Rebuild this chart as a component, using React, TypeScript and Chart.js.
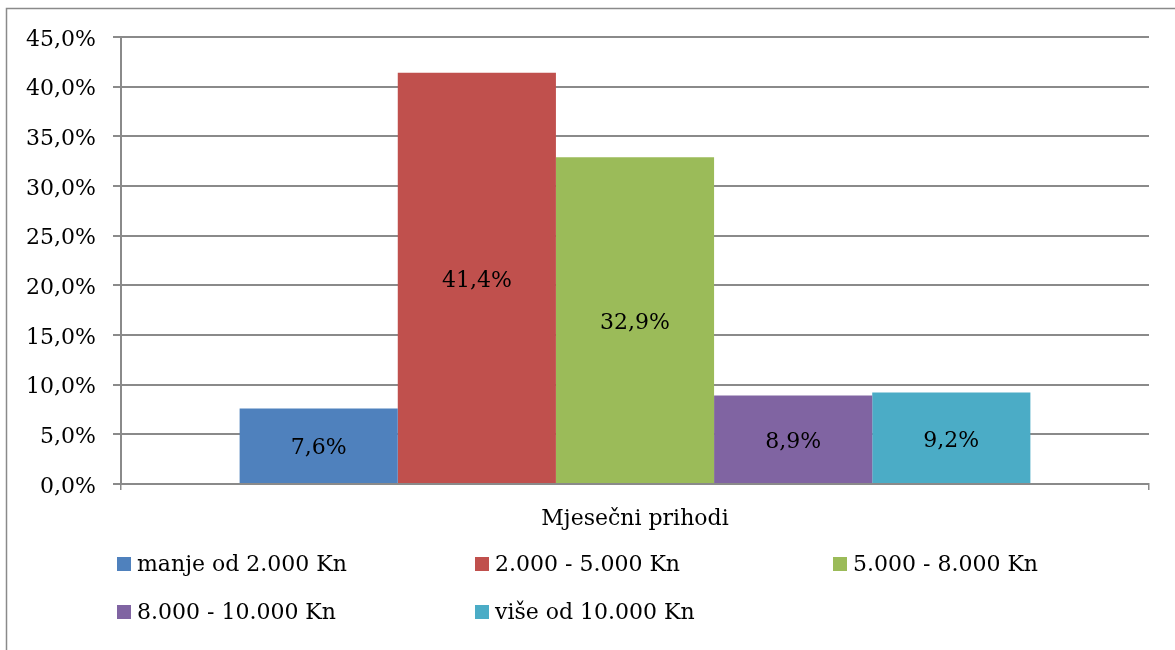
import React, { useEffect, useRef } from "react";
import { Chart, registerables } from "chart.js";

Chart.register(...registerables);

const categories = ["Mjesečni prihodi"];
const seriesNames = [
  "manje od 2.000 Kn",
  "2.000 - 5.000 Kn",
  "5.000 - 8.000 Kn",
  "8.000 - 10.000 Kn",
  "više od 10.000 Kn",
];
const seriesValues = [7.6, 41.4, 32.9, 8.9, 9.2];
const seriesColors = ["#4F81BD", "#C0504D", "#9BBB59", "#8064A2", "#4BACC6"];
const yMin = 0;
const yMax = 45;
const yStep = 5;

const FONT = "'DejaVu Serif', serif";
const FS = 22;

const fmt = (v: number) => v.toFixed(1).replace(".", ",") + "%";

const framePlugin = {
  id: "frame",
  beforeDraw(chart: any) {
    const ctx = chart.ctx;
    ctx.save();
    ctx.fillStyle = "#ffffff";
    ctx.fillRect(0, 0, chart.width, chart.height);
    ctx.strokeStyle = "#8a8a8a";
    ctx.lineWidth = 1.5;
    ctx.strokeRect(6.5, 8.5, chart.width + 20, chart.height + 20);
    ctx.restore();
  },
};

const valueLabelPlugin = {
  id: "valueLabels",
  afterDatasetsDraw(chart: any) {
    const ctx = chart.ctx;
    ctx.save();
    ctx.font = `${FS}px ${FONT}`;
    ctx.fillStyle = "#000000";
    ctx.textAlign = "center";
    ctx.textBaseline = "middle";
    chart.data.datasets.forEach((ds: any, i: number) => {
      const meta = chart.getDatasetMeta(i);
      meta.data.forEach((bar: any, j: number) => {
        const v = ds.data[j];
        ctx.fillText(fmt(v), bar.x, (bar.y + bar.base) / 2 + 3);
      });
    });
    ctx.restore();
  },
};

const gridLegendPlugin = {
  id: "gridLegend",
  afterDraw(chart: any) {
    const ctx = chart.ctx;
    const area = chart.chartArea;
    const colW = 358;
    const perRow = 3;
    const startX = area.left - 4;
    const startY = area.bottom + 80;
    const rowH = 48;
    const box = 14;
    ctx.save();
    ctx.font = `${FS}px ${FONT}`;
    ctx.textBaseline = "middle";
    ctx.textAlign = "left";
    chart.data.datasets.forEach((ds: any, i: number) => {
      const col = i % perRow;
      const row = Math.floor(i / perRow);
      const x = startX + col * colW;
      const y = startY + row * rowH;
      ctx.fillStyle = ds.backgroundColor;
      ctx.fillRect(x, y - box / 2, box, box);
      ctx.fillStyle = "#000000";
      ctx.fillText(ds.label, x + box + 6, y + 1);
    });
    ctx.restore();
  },
};

export default function App() {
  const ref = useRef<HTMLCanvasElement | null>(null);
  useEffect(() => {
    if (!ref.current) return;
    const chart = new Chart(ref.current, {
      type: "bar",
      data: {
        labels: categories,
        datasets: seriesNames.map((name, i) => ({
          label: name,
          data: [seriesValues[i]],
          backgroundColor: seriesColors[i],
          borderWidth: 0,
          categoryPercentage: 5 / 6.5,
          barPercentage: 1,
        })),
      },
      options: {
        animation: false,
        responsive: false,
        maintainAspectRatio: false,
        layout: { padding: { left: 0, right: 26, top: 37, bottom: 0 } },
        plugins: {
          legend: { display: false },
          tooltip: { enabled: false },
        },
        scales: {
          x: {
            offset: true,
            grid: {
              display: true,
              drawOnChartArea: false,
              drawTicks: true,
              tickLength: 6,
              color: "#8a8a8a",
              lineWidth: 1.5,
            },
            border: { display: true, color: "#8a8a8a", width: 2 },
            ticks: {
              color: "#000000",
              font: { family: FONT, size: FS },
              padding: 16,
            },
            afterFit(scale: any) {
              scale.height = 166;
            },
          },
          y: {
            min: yMin,
            max: yMax,
            ticks: {
              stepSize: yStep,
              color: "#000000",
              font: { family: FONT, size: FS },
              padding: 17,
              labelOffset: 3,
              callback: (v: any) => fmt(Number(v)),
            },
            grid: {
              color: "#8a8a8a",
              lineWidth: 2,
              tickLength: 8,
            },
            border: { display: true, color: "#8a8a8a", width: 2 },
            afterFit(scale: any) {
              scale.width = 121;
            },
          },
        },
      },
      plugins: [framePlugin, valueLabelPlugin, gridLegendPlugin],
    });
    return () => chart.destroy();
  }, []);
  return (
    <div style={{ position: "fixed", left: 0, top: 0, width: 1175, height: 650 }}>
      <canvas ref={ref} width={1175} height={650} />
    </div>
  );
}
